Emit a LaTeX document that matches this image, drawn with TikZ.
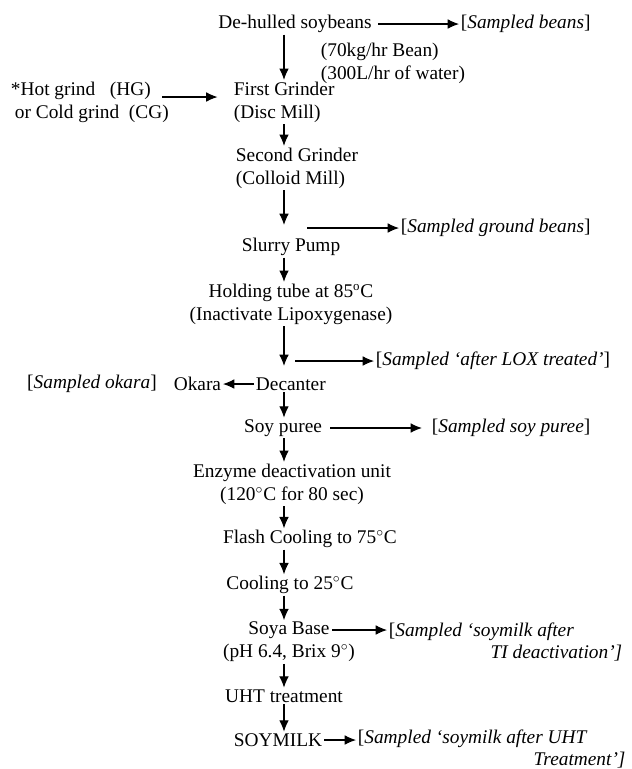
\documentclass[tikz,border=0pt]{standalone}
\usepackage{fontspec}
\setmainfont{Liberation Serif}
\usetikzlibrary{arrows.meta}

\begin{document}
\begin{tikzpicture}[x=0.62pt, y=-0.62pt,
  every node/.style={font=\fontsize{12pt}{14.2pt}\selectfont, inner sep=1pt},
  flow/.style={-{Latex[length=7pt,width=6pt]}, line width=0.65pt, black}]
  \useasboundingbox (0,0) rectangle (631,769);
  \coordinate (C) at (284,0);

  \node (Beans) at (295,24) {De-hulled soybeans};
  \node (S1) [anchor=west] at (459,24) {[\textit{Sampled beans}]};
  \node (Rate) [anchor=west, align=left] at (319,63) {(70kg/hr Bean)\\(300L/hr of water)};
  \node (HC) [anchor=west, align=left] at (9,102) {*Hot grind\ \ \ (HG)\\\hspace*{2.5pt}or Cold grind\ \ (CG)};
  \node (G1) [anchor=west, align=left] at (232,102) {First Grinder\\(Disc Mill)};
  \node (G2) [anchor=west, align=left] at (234,168) {Second Grinder\\(Colloid Mill)};
  \node (S2) [anchor=west] at (399,228) {[\textit{Sampled ground beans}]};
  \node (Pump) at (291,247) {Slurry Pump};
  \node (Hold) [align=center] at (291,304) {Holding tube at 85\textsuperscript{o}C\\(Inactivate Lipoxygenase)};
  \node (S3) [anchor=west] at (374,361) {[\textit{Sampled `after LOX treated'}]};
  \node (Dec) [anchor=west] at (254,384) {Decanter};
  \node (Okara) [anchor=east] at (223,384) {Okara};
  \node (S4) at (92,384) {[\textit{Sampled okara}]};
  \node (Puree) at (283,428) {Soy puree};
  \node (S5) [anchor=west] at (430,428) {[\textit{Sampled soy puree}]};
  \node (Enz) [align=center] at (292,484) {Enzyme deactivation unit\\(120$^\circ$C for 80 sec)};
  \node (Flash) at (310,539) {Flash Cooling to 75$^\circ$C};
  \node (Cool) at (290,585) {Cooling to 25$^\circ$C};
  \node (Base) [align=center] at (289,642) {Soya Base\\(pH 6.4, Brix 9$^\circ$)};
  \node (S6) [anchor=west, align=left] at (387,642) {[\textit{Sampled `soymilk after}\\\hspace*{63pt}\textit{TI deactivation']}};
  \node (UHT) at (284,696) {UHT treatment};
  \node (Milk) at (278,740) {SOYMILK};
  \node (S7) [anchor=west, align=left] at (356,749) {[\textit{Sampled `soymilk after UHT}\\\hspace*{109pt}\textit{Treatment']}};

  \coordinate (H) at (162,97);
  \coordinate (P) at (307,228);
  \coordinate (L) at (295,361);
  \coordinate (B) at (332,630);

  \draw [flow, shorten <=3pt] (Beans) -- (S1);
  \draw [flow] (Beans.south -| C) -- (G1.north -| C);
  \draw [flow, shorten >=9pt] (H) -- (G1.west |- H);
  \draw [flow] (G1.south -| C) -- (G2.north -| C);
  \draw [flow, shorten >=7pt] (G2.south -| C) -- (Pump.north -| C);
  \draw [flow] (P) -- (S2);
  \draw [flow] (Pump.south -| C) -- (Hold.north -| C);
  \draw [flow, shorten >=6pt] (Hold.south -| C) -- (Dec.north -| C);
  \draw [flow] (L) -- (S3);
  \draw [flow] (Dec) -- (Okara);
  \draw [flow] (Dec.south -| C) -- (Puree.north -| C);
  \draw [flow, shorten <=4pt, shorten >=5pt] (Puree) -- (S5);
  \draw [flow] (Puree.south -| C) -- (Enz.north -| C);
  \draw [flow] (Enz.south -| C) -- (Flash.north -| C);
  \draw [flow] (Flash.south -| C) -- (Cool.north -| C);
  \draw [flow] (Cool.south -| C) -- (Base.north -| C);
  \draw [flow] (B) -- (S6.west |- B);
  \draw [flow] (Base.south -| C) -- (UHT.north -| C);
  \draw [flow] (UHT.south -| C) -- (Milk.north -| C);
  \draw [flow] (Milk.east) -- (S7.west |- Milk.east);
\end{tikzpicture}
\end{document}
